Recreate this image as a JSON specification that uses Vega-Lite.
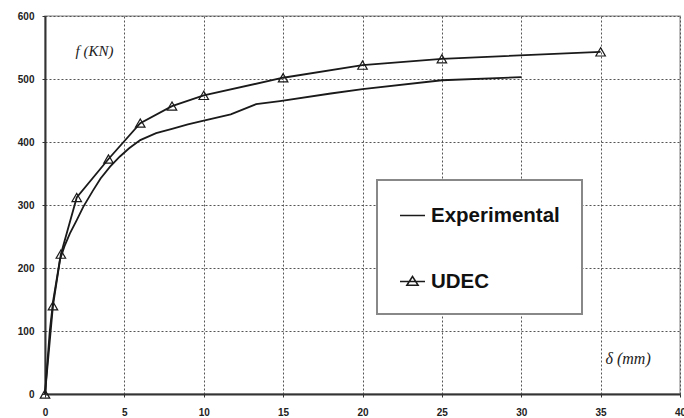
{
  "$schema": "https://vega.github.io/schema/vega-lite/v6.json",
  "width": 635,
  "height": 378,
  "autosize": {"type": "none"},
  "padding": {"left": 45, "top": 16, "right": 4, "bottom": 24},
  "background": "white",
  "config": {
    "view": {"stroke": "#aaaaaa", "strokeWidth": 1.5},
    "font": "Liberation Sans"
  },
  "data": {
    "values": [
      {"series": "Experimental", "d": 0, "f": 0},
      {"series": "Experimental", "d": 0.3, "f": 100},
      {"series": "Experimental", "d": 0.52, "f": 149},
      {"series": "Experimental", "d": 0.94, "f": 213},
      {"series": "Experimental", "d": 1.25, "f": 236},
      {"series": "Experimental", "d": 1.57, "f": 255},
      {"series": "Experimental", "d": 2, "f": 276},
      {"series": "Experimental", "d": 2.41, "f": 297},
      {"series": "Experimental", "d": 3, "f": 322},
      {"series": "Experimental", "d": 3.5, "f": 342},
      {"series": "Experimental", "d": 4.1, "f": 361},
      {"series": "Experimental", "d": 4.72, "f": 377},
      {"series": "Experimental", "d": 5.3, "f": 390},
      {"series": "Experimental", "d": 6, "f": 403},
      {"series": "Experimental", "d": 7, "f": 414},
      {"series": "Experimental", "d": 8, "f": 421},
      {"series": "Experimental", "d": 9, "f": 428},
      {"series": "Experimental", "d": 10, "f": 434},
      {"series": "Experimental", "d": 11.7, "f": 444},
      {"series": "Experimental", "d": 13.3, "f": 460},
      {"series": "Experimental", "d": 14.8, "f": 465},
      {"series": "Experimental", "d": 18, "f": 477},
      {"series": "Experimental", "d": 20, "f": 484},
      {"series": "Experimental", "d": 25, "f": 498},
      {"series": "Experimental", "d": 30, "f": 503},
      {"series": "UDEC", "d": 0, "f": 0},
      {"series": "UDEC", "d": 0.5, "f": 140},
      {"series": "UDEC", "d": 1, "f": 222},
      {"series": "UDEC", "d": 2, "f": 312},
      {"series": "UDEC", "d": 4, "f": 373},
      {"series": "UDEC", "d": 6, "f": 430},
      {"series": "UDEC", "d": 8, "f": 457},
      {"series": "UDEC", "d": 10, "f": 474},
      {"series": "UDEC", "d": 15, "f": 502},
      {"series": "UDEC", "d": 20, "f": 522},
      {"series": "UDEC", "d": 25, "f": 532},
      {"series": "UDEC", "d": 35, "f": 543}
    ]
  },
  "encoding": {
    "x": {
      "field": "d", "type": "quantitative",
      "scale": {"domain": [0, 40], "nice": false, "zero": false},
      "axis": {
        "title": "δ (mm)", "titleX": 560, "titleY": -36, "titleAlign": "left", "titleBaseline": "middle",
        "titleFont": "Liberation Serif", "titleFontStyle": "italic", "titleFontWeight": "normal", "titleFontSize": 16, "titleColor": "#222",
        "values": [0, 5, 10, 15, 20, 25, 30, 35, 40],
        "grid": true, "gridDash": [2, 2], "gridColor": "#555", "gridWidth": 1,
        "domainColor": "#333", "domainWidth": 2,
        "tickSize": 3, "tickColor": "#333",
        "labelFontSize": 10, "labelFontWeight": "bold", "labelColor": "#222", "labelPadding": 10,
        "labelFlush": false
      }
    },
    "y": {
      "field": "f", "type": "quantitative",
      "scale": {"domain": [0, 600], "nice": false},
      "axis": {
        "title": "f (KN)", "titleX": 30, "titleY": 34, "titleAngle": 0, "titleAlign": "left", "titleBaseline": "middle",
        "titleFont": "Liberation Serif", "titleFontStyle": "italic", "titleFontWeight": "normal", "titleFontSize": 15, "titleColor": "#222",
        "values": [0, 100, 200, 300, 400, 500, 600],
        "grid": true, "gridDash": [2, 2], "gridColor": "#555", "gridWidth": 1,
        "domainColor": "#333", "domainWidth": 2,
        "tickSize": 3, "tickColor": "#333",
        "labelFontSize": 10, "labelFontWeight": "bold", "labelColor": "#222", "labelPadding": 8
      }
    }
  },
  "layer": [
    {
      "mark": {"type": "line", "strokeWidth": 1.8, "interpolate": "linear"},
      "encoding": {
        "color": {
          "field": "series", "type": "nominal",
          "scale": {"domain": ["Experimental", "UDEC"], "range": ["#1a1a1a", "#1a1a1a"]},
          "legend": {
            "title": null,
            "orient": "none", "legendX": 332, "legendY": 164,
            "strokeColor": "#888", "fillColor": "white", "padding": 22,
            "labelFontSize": 20.5, "labelFont": "Liberation Sans", "labelFontWeight": "bold", "labelColor": "#111",
            "symbolSize": 625, "symbolStrokeWidth": 1.5, "rowPadding": 42, "labelOffset": 5,
            "encode": {
              "legend": {"update": {"strokeWidth": {"value": 2}}},
              "symbols": {"update": {
                "shape": {"signal": "datum.value === 'UDEC' ? 'M-1,0L1,0M-0.45,0.3L0,-0.4L0.45,0.3Z' : 'M-1,0L1,0'"},
                "stroke": {"value": "#333"},
                "fill": {"value": "transparent"}
              }}
            }
          }
        }
      }
    },
    {
      "transform": [{"filter": "datum.series === 'UDEC'"}],
      "mark": {"type": "point", "shape": "triangle-up", "size": 90, "filled": false, "stroke": "#1a1a1a", "strokeWidth": 1.2, "opacity": 1}
    }
  ]
}
